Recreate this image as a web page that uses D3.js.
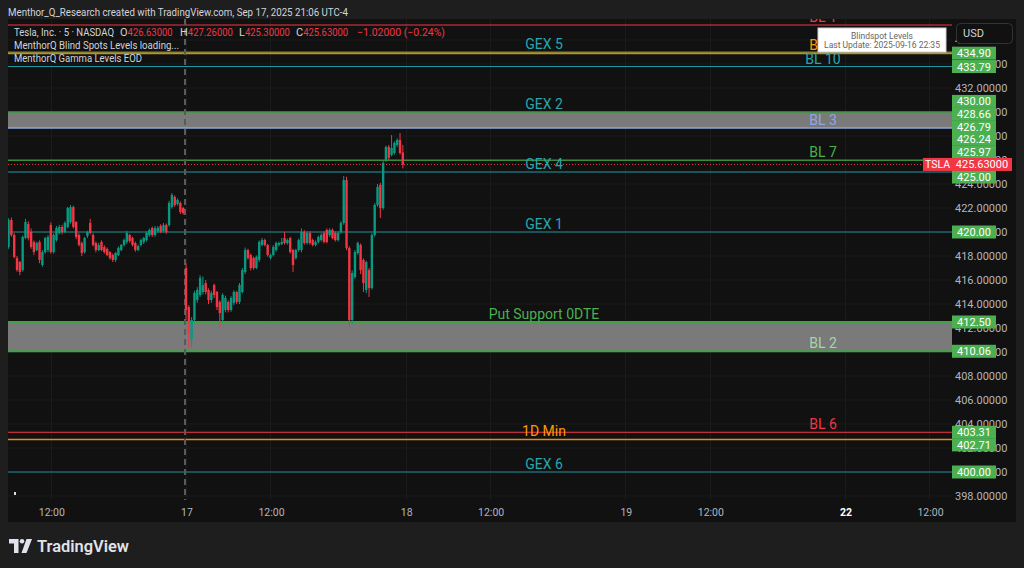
<!DOCTYPE html>
<html><head><meta charset="utf-8">
<script src="https://cdn.jsdelivr.net/npm/d3@7"></script>
<style>
html,body{margin:0;padding:0;background:#1e1e1e;}
svg{display:block;font-family:Roboto,"Noto Sans","DejaVu Sans",sans-serif;}
</style></head><body>
<svg id="c" width="1024" height="568"></svg>
<script>
// ---------- DATA ----------
// 5-minute candles [open, high, low, close]; Sep 16 starts at bar 15 of the session (10:45)
const sep16StartBar = 15;
const sep16 = [
[418.75,421.15,418.6,421.0],[421.0,421.2,419.6,419.75],[419.75,419.9,417.8,417.92],[417.83,418.0,416.7,416.83],
[417.5,417.6,416.4,416.67],[416.83,419.7,416.7,419.58],[419.5,421.1,419.4,420.83],[420.67,420.9,419.3,419.5],
[420.0,420.3,418.6,418.75],[419.17,419.3,418.1,418.33],[418.5,419.2,418.4,419.08],[419.17,419.3,417.4,417.67],
[417.25,418.5,417.1,418.33],[418.33,419.6,418.2,419.5],[418.5,419.75,418.3,419.58],[420.58,420.8,418.2,418.33],
[418.33,419.9,418.2,419.75],[419.33,420.5,419.2,420.33],[419.92,420.6,419.8,420.42],[420.42,420.6,419.8,420.0],
[420.0,420.9,419.9,420.75],[420.42,422.1,420.3,422.0],[420.83,422.25,420.7,422.08],[422.08,422.2,420.3,420.42],
[420.83,420.9,419.4,419.58],[419.75,419.9,418.8,418.92],[419.08,419.2,418.0,418.25],[418.33,419.6,418.2,419.5],
[419.67,420.1,419.5,420.0],[420.75,421.1,419.8,419.92],[419.75,419.9,418.8,418.92],[419.08,419.2,418.3,418.5],
[418.5,419.1,418.4,418.92],[419.17,419.3,418.4,418.5],[418.75,418.9,418.2,418.33],[418.58,418.7,418.0,418.08],
[418.33,418.4,417.7,417.83],[418.08,418.2,417.5,417.67],[417.67,418.35,417.5,418.25],[418.08,418.8,418.0,418.67],
[418.5,419.0,418.4,418.92],[418.92,419.45,418.8,419.33],[419.17,420.1,419.0,419.92],[419.75,419.85,419.1,419.25],
[419.5,419.6,418.8,418.92],[419.08,419.2,418.35,418.5],[418.5,418.95,418.4,418.83],[418.92,419.45,418.8,419.33],
[419.17,419.6,419.0,419.5],[419.33,420.05,419.2,419.92],[419.75,420.3,419.6,420.17],[420.33,420.45,419.6,419.75],
[419.75,420.5,419.6,420.33],[420.08,420.5,419.95,420.33],[420.5,420.65,419.9,420.0],[420.08,420.75,419.95,420.58],
[420.58,420.7,419.85,420.0],[420.58,422.6,420.45,422.42],[422.08,423.25,421.95,423.08],[422.92,423.05,422.1,422.25],
[422.33,422.8,422.2,422.67],[422.42,422.55,421.5,421.67],[422.0,422.1,421.45,421.58]
];
const sep17 = [
[416.99,417.4,412.67,413.5],[413.75,413.9,410.33,411.58],[411.08,412.9,410.4,412.67],[412.67,415.1,412.5,414.92],
[414.33,415.4,414.1,415.17],[414.75,416.4,414.6,416.17],[415.0,416.3,414.8,415.58],[415.75,416.0,414.8,415.0],
[415.17,415.3,414.0,414.33],[414.33,415.1,414.1,414.92],[415.58,415.7,414.5,414.75],[415.0,415.1,413.5,413.75],
[414.17,414.3,412.08,413.25],[412.67,414.9,412.5,414.75],[413.5,414.7,413.3,414.5],[414.17,414.3,413.3,413.5],
[413.5,414.65,413.35,414.5],[414.08,415.15,413.9,415.0],[415.0,415.1,414.0,414.17],[414.17,415.75,414.0,415.58],
[415.0,417.0,414.9,416.83],[416.67,418.7,416.5,418.5],[418.5,418.6,417.7,417.83],[418.08,418.2,416.8,417.0],
[417.83,417.95,416.85,417.0],[417.0,418.05,416.9,417.92],[417.67,419.3,417.5,419.17],[418.92,419.5,418.8,419.33],
[419.33,419.45,418.8,418.92],[418.92,419.0,417.95,418.08],[417.83,418.2,417.7,418.08],[418.08,418.9,417.95,418.75],
[418.5,419.2,418.35,419.08],[418.92,419.2,418.8,419.08],[419.0,419.5,418.9,419.17],[419.5,420.0,418.95,419.08],
[419.08,419.45,418.95,419.33],[419.5,419.6,418.2,418.33],[418.5,418.6,416.67,417.25],[417.83,418.6,417.7,418.5],
[418.5,419.45,418.35,419.33],[418.5,420.3,418.3,420.0],[420.0,420.15,418.95,419.08],[419.08,420.05,418.95,419.92],
[419.92,420.05,418.95,419.08],[419.33,419.45,418.8,418.92],[418.92,419.3,418.8,419.17],[419.17,419.7,419.05,419.58],
[419.33,419.9,419.2,419.75],[419.92,420.05,419.05,419.17],[420.17,420.3,419.05,419.17],[419.75,420.3,419.6,420.17],
[420.17,420.3,419.4,419.5],[419.92,420.05,419.2,419.33],[419.33,420.05,419.2,419.92],[420.0,420.9,419.85,420.75],
[420.75,424.67,420.6,424.33],[424.33,424.6,418.5,418.67],[418.67,418.8,412.08,412.67],[412.67,416.8,412.4,416.58],
[416.25,418.5,416.1,418.33],[418.25,419.2,418.1,419.08],[418.92,419.05,416.5,416.83],[417.67,417.8,415.0,415.75],
[415.17,417.6,414.9,417.5],[416.83,417.0,414.58,415.33],[415.33,419.9,415.2,419.75],[419.75,422.4,419.6,422.25],
[422.25,424.0,422.1,423.75],[423.92,424.1,421.17,422.0],[422.0,425.9,421.85,425.75],[426.0,427.2,425.85,427.08],
[427.08,427.25,426.0,426.17],[426.42,428.08,426.3,427.0],[426.58,427.55,426.45,427.42],[427.25,427.8,427.1,427.67],
[427.67,428.25,426.45,426.58],[426.63,427.26,425.30,425.63]
];
const lastPrice = 425.63;

// Levels (name, value)
const levelNames  = ["BL 1","GEX 5","BL 5","BL 10","GEX 2","BL 3","BL 7","GEX 4","GEX 1","Put Support 0DTE","BL 2","BL 6","1D Min","GEX 6"];
const levelValues = [437.25, 435.0, 434.9, 433.79, 430.0, 428.66, 425.97, 425.0, 420.0, 412.5, 410.06, 403.31, 402.71, 400.0];
// Gray zones [top, bottom]
const zoneTops    = [430.0, 412.5];
const zoneBottoms = [428.66, 410.06];
// Price-scale tags
const tagValues = [434.90, 433.79, 430.00, 428.66, 426.79, 426.24, 425.97, 425.00, 420.00, 412.50, 410.06, 403.31, 402.71, 400.00];
// Legend OHLC
const ohlcKeys = ["O","H","L","C"];
const ohlcVals = ["426.63000","427.26000","425.30000","425.63000"];
const changeText = "−1.02000 (−0.24%)";
// Axis ticks
const priceTicks = d3.range(398, 437, 2);
const dayLabels = ["16","17","18","19","22"];
const dayBars   = [0, 78, 156, 234, 312];     // first bar of each session (5-min bars, 78 per session)
const noonOffset = 30;                         // 12:00 is 30 bars after 09:30

// ---------- STYLES ----------
const C = {
  bg:"#1e1e1e", panel:"#111111", grid:"#1b1b1b", text:"#d1d4dc", axis:"#b2b5be",
  up:"#089981", down:"#f23645", tag:"#4caf50", red:"#f23645"
};
const levelStyle = {
  "BL 1":{line:"#f23645", w:1, label:"#f23645", side:"r"},
  "GEX 5":{line:"#1f9aa6", w:1, label:"#26a6b0", side:"c"},
  "BL 5":{line:"#b89320", w:2, label:"#ff9800", side:"r"},
  "BL 10":{line:"#1f9aa6", w:1, label:"#26a6b0", side:"r"},
  "GEX 2":{line:"#3f9a44", w:1.5, label:"#26a6b0", side:"c"},
  "BL 3":{line:"#8ea4dc", w:1.5, label:"#8fa6e6", side:"r"},
  "BL 7":{line:"#3c8c40", w:1.5, label:"#4caf50", side:"r"},
  "GEX 4":{line:"#1f9aa6", w:1, label:"#26a6b0", side:"c"},
  "GEX 1":{line:"#1f8f99", w:1, label:"#26a6b0", side:"c"},
  "Put Support 0DTE":{line:"#43a047", w:2, label:"#4caf50", side:"c"},
  "BL 2":{line:"#43a047", w:2, label:"#a5d6a7", side:"r"},
  "BL 6":{line:"#f23645", w:1, label:"#f23645", side:"r"},
  "1D Min":{line:"#e8891a", w:1.5, label:"#ff9800", side:"c"},
  "GEX 6":{line:"#1f8f99", w:1, label:"#26a6b0", side:"c"}
};

// ---------- LAYOUT ----------
const P = {x0:8, x1:952, y0:19, y1:500, right:1016, bottom:522};
const y = d3.scaleLinear().domain([398, 432]).range([496, 88]);
const x = d3.scaleLinear().domain([78, 312]).range([186, 845]);

const svg = d3.select("#c");
svg.append("rect").attr("width",1024).attr("height",568).attr("fill",C.bg);
svg.append("rect").attr("x",P.x0).attr("y",P.y0).attr("width",P.right-P.x0).attr("height",P.bottom-P.y0).attr("fill",C.panel);

const defs = svg.append("defs");
defs.append("clipPath").attr("id","plotClip").append("rect")
  .attr("x",P.x0).attr("y",P.y0).attr("width",P.x1-P.x0).attr("height",P.y1-P.y0);

// ticks in view
const timeTicks = [];
dayBars.forEach((b,i)=>{ timeTicks.push({bar:b,label:dayLabels[i]}); timeTicks.push({bar:b+noonOffset,label:"12:00"}); });
const visTime = timeTicks.filter(d=>x(d.bar)>P.x0+10 && x(d.bar)<P.x1);
const visPrice = priceTicks.filter(d=>y(d)>P.y0+8 && y(d)<P.y1);

// grid
const grid = svg.append("g").attr("clip-path","url(#plotClip)");
grid.selectAll("line.h").data(visPrice).join("line")
  .attr("x1",P.x0).attr("x2",P.x1).attr("y1",d=>y(d)).attr("y2",d=>y(d))
  .attr("stroke",C.grid).attr("stroke-width",1);
grid.selectAll("line.v").data(visTime).join("line")
  .attr("x1",d=>Math.round(x(d.bar))+0.5).attr("x2",d=>Math.round(x(d.bar))+0.5).attr("y1",P.y0).attr("y2",P.y1)
  .attr("stroke",C.grid).attr("stroke-width",1);

const plot = svg.append("g").attr("clip-path","url(#plotClip)");

// zones
plot.selectAll("rect.zone").data(zoneTops.map((t,i)=>[t,zoneBottoms[i]])).join("rect")
  .attr("x",P.x0).attr("width",P.x1-P.x0)
  .attr("y",d=>y(d[0])).attr("height",d=>y(d[1])-y(d[0]))
  .attr("fill","#7a7a7a");

// level lines
const levels = levelNames.map((n,i)=>({name:n, v:levelValues[i]}));
plot.selectAll("line.lvl").data(levels).join("line")
  .attr("x1",P.x0).attr("x2",P.x1)
  .attr("y1",d=>y(d.v)).attr("y2",d=>y(d.v))
  .attr("stroke",d=>levelStyle[d.name].line).attr("stroke-width",d=>levelStyle[d.name].w);

// session separator (dashed)
plot.append("line").attr("x1",x(78)-1).attr("x2",x(78)-1).attr("y1",P.y0).attr("y2",P.y1)
  .attr("stroke","#5a5a5a").attr("stroke-width",2).attr("stroke-dasharray","6,4");

// candles
const bars = [];
sep16.forEach((r,k)=>bars.push({i:sep16StartBar+k, o:r[0],h:r[1],l:r[2],c:r[3]}));
sep17.forEach((r,k)=>bars.push({i:78+k, o:r[0],h:r[1],l:r[2],c:r[3]}));
const cg = plot.append("g");
cg.selectAll("line.wick").data(bars).join("line")
  .attr("x1",d=>x(d.i)).attr("x2",d=>x(d.i)).attr("y1",d=>y(d.h)).attr("y2",d=>y(d.l))
  .attr("stroke",d=>d.c>=d.o?C.up:C.down).attr("stroke-width",1);
cg.selectAll("rect.body").data(bars).join("rect")
  .attr("x",d=>x(d.i)-1.2).attr("width",2.4)
  .attr("y",d=>y(Math.max(d.o,d.c))).attr("height",d=>Math.max(1,Math.abs(y(d.o)-y(d.c))))
  .attr("fill",d=>d.c>=d.o?C.up:C.down);

// last price dotted line
plot.append("line").attr("x1",P.x0).attr("x2",P.x1).attr("y1",y(lastPrice)).attr("y2",y(lastPrice))
  .attr("stroke",C.red).attr("stroke-width",1).attr("stroke-dasharray","1,2");

// level labels
const labG = svg.append("g").attr("clip-path","url(#plotClip)");
labG.selectAll("text").data(levels).join("text")
  .attr("x",d=>levelStyle[d.name].side==="c"?544:823)
  .attr("y",d=>y(d.v)-3)
  .attr("text-anchor","middle").attr("font-size",14)
  .attr("fill",d=>levelStyle[d.name].label).text(d=>d.name);

// legend
const lg = svg.append("g").attr("font-size",11);
lg.append("text").attr("x",14).attr("y",36).attr("fill",C.text)
  .attr("textLength",100).attr("lengthAdjust","spacingAndGlyphs").text("Tesla, Inc. · 5 · NASDAQ");
const ohlcX = [120,180,239,296];
ohlcKeys.forEach((k,i)=>{
  const t = lg.append("text").attr("x",ohlcX[i]).attr("y",36);
  t.append("tspan").attr("fill",C.text).text(k);
  t.append("tspan").attr("fill",C.red).attr("textLength",45).attr("lengthAdjust","spacingAndGlyphs").text(ohlcVals[i]);
});
lg.append("text").attr("x",357).attr("y",36).attr("fill",C.red)
  .attr("textLength",88).attr("lengthAdjust","spacingAndGlyphs").text(changeText);
lg.append("text").attr("x",14).attr("y",49).attr("fill",C.text).attr("textLength",165).attr("lengthAdjust","spacingAndGlyphs").text("MenthorQ Blind Spots Levels loading...");
lg.append("text").attr("x",14).attr("y",62).attr("fill",C.text).attr("textLength",128).attr("lengthAdjust","spacingAndGlyphs").text("MenthorQ Gamma Levels EOD");

// tooltip box
svg.append("rect").attr("x",818).attr("y",28).attr("width",128).attr("height",24).attr("fill","#ffffff").attr("stroke","#d0d0d0");
svg.append("text").attr("x",882).attr("y",38.5).attr("text-anchor","middle").attr("font-size",8.5).attr("fill","#666").text("Blindspot Levels");
svg.append("text").attr("x",882).attr("y",47.5).attr("text-anchor","middle").attr("font-size",8.5).attr("fill","#666").text("Last Update: 2025-09-16 22:35");

// price axis tick labels
const ax = svg.append("g").attr("font-size",11).attr("fill",C.axis);
ax.selectAll("text").data(visPrice).join("text")
  .attr("x",955).attr("y",d=>y(d)+4).text(d=>d.toFixed(5));

// tags with collision stacking around the last price tag
const tagH = 12.6;
const tags = tagValues.map(v=>({v, ty:y(v)})).sort((a,b)=>b.v-a.v);
let prev = y(lastPrice);
tags.filter(t=>t.v>lastPrice).reverse().forEach(t=>{ t.ty=Math.min(t.ty, prev-tagH); prev=t.ty; });
prev = y(lastPrice);
tags.filter(t=>t.v<lastPrice).forEach(t=>{ t.ty=Math.max(t.ty, prev+tagH); prev=t.ty; });
const tg = svg.append("g").attr("font-size",11);
tg.selectAll("rect").data(tags).join("rect")
  .attr("x",952).attr("y",d=>d.ty-6.5).attr("width",44).attr("height",13).attr("fill",C.tag);
tg.selectAll("text").data(tags).join("text")
  .attr("x",974).attr("y",d=>d.ty+4).attr("text-anchor","middle").attr("fill","#ffffff").text(d=>d.v.toFixed(2));
// last price tag
const ly = y(lastPrice);
svg.append("rect").attr("x",923).attr("y",ly-6.5).attr("width",29).attr("height",13).attr("fill",C.red);
svg.append("text").attr("x",937.5).attr("y",ly+4).attr("text-anchor","middle").attr("font-size",10.5).attr("fill","#fff").text("TSLA");
svg.append("rect").attr("x",952).attr("y",ly-6.5).attr("width",60).attr("height",13).attr("fill",C.red);
svg.append("text").attr("x",982).attr("y",ly+4).attr("text-anchor","middle").attr("font-size",11).attr("fill","#fff").text(lastPrice.toFixed(5));

// USD box
svg.append("rect").attr("x",956.5).attr("y",23.5).attr("width",56).attr("height",20).attr("rx",4).attr("fill",C.panel).attr("stroke","#333");
svg.append("text").attr("x",963).attr("y",37).attr("font-size",11).attr("fill",C.text).text("USD");

// time axis labels
svg.append("g").selectAll("text").data(visTime).join("text")
  .attr("x",d=>x(d.bar)+1).attr("y",516).attr("text-anchor","middle").attr("font-size",10.5)
  .attr("fill",d=>d.label==="22"?"#ffffff":C.axis).attr("font-weight",d=>d.label==="22"?"bold":"normal")
  .text(d=>d.label);

// small marker bottom-left
svg.append("rect").attr("x",14).attr("y",492).attr("width",2).attr("height",3).attr("fill","#ddd");

// header
svg.append("text").attr("x",8).attr("y",16).attr("font-size",11).attr("fill",C.text)
  .attr("textLength",340).attr("lengthAdjust","spacingAndGlyphs")
  .text("Menthor_Q_Research created with TradingView.com, Sep 17, 2025 21:06 UTC-4");

// TradingView logo
const logo = svg.append("g").attr("fill","#e0e3eb");
logo.append("path").attr("d","M9,539 h9.5 v14 h-4.5 v-9.5 h-5 z");
logo.append("circle").attr("cx",22).attr("cy",541.3).attr("r",2.3);
logo.append("path").attr("d","M26.5,539 h5.5 l-5.5,14 h-5 z");
svg.append("text").attr("x",37).attr("y",552).attr("font-size",16).attr("font-weight",600).attr("fill","#e0e3eb")
  .attr("textLength",92).attr("lengthAdjust","spacingAndGlyphs").text("TradingView");
</script></body></html>
